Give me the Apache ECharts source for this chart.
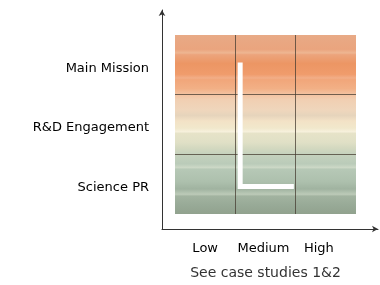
<!DOCTYPE html>
<html>
<head>
<meta charset="utf-8">
<script src="https://cdn.jsdelivr.net/npm/echarts@6/dist/echarts.min.js"></script>
<style>
  html, body { margin: 0; padding: 0; background: #fff; }
  #chart { width: 380px; height: 285px; }
</style>
</head>
<body>
<div id="chart"></div>
<script>
// axis categories
const levels = ['Low', 'Medium', 'High'];
const areas = ['Science PR', 'R&D Engagement', 'Main Mission'];
const footnote = 'See case studies 1&2';
// white "L" path, in cell units (0..3 on both axes)
const pathX = [1.08, 1.08, 1.97];
const pathY = [2.54, 0.46, 0.46];

const font = '"DejaVu Sans", "Noto Sans", sans-serif';

// striped orange -> cream -> green background
const bg = {
  type: 'linear', x: 0, y: 0, x2: 0, y2: 1,
  colorStops: [
    { offset: 0.00, color: '#e8aa86' },
    { offset: 0.08, color: '#eaa47e' },
    { offset: 0.10, color: '#eeb692' },
    { offset: 0.11, color: '#eca47c' },
    { offset: 0.16, color: '#ec9664' },
    { offset: 0.22, color: '#f09c6c' },
    { offset: 0.24, color: '#f2ae88' },
    { offset: 0.25, color: '#f1a67a' },
    { offset: 0.30, color: '#f2b086' },
    { offset: 0.33, color: '#f3c2a0' },
    { offset: 0.36, color: '#f1cfb2' },
    { offset: 0.42, color: '#efd6bc' },
    { offset: 0.45, color: '#e6d4bc' },
    { offset: 0.48, color: '#f3e2c6' },
    { offset: 0.52, color: '#f1e8cc' },
    { offset: 0.54, color: '#f6f0dc' },
    { offset: 0.55, color: '#e6e3c8' },
    { offset: 0.60, color: '#e0e0c6' },
    { offset: 0.63, color: '#d4d9c0' },
    { offset: 0.67, color: '#c4d1bd' },
    { offset: 0.72, color: '#bacbb9' },
    { offset: 0.74, color: '#ccd8c6' },
    { offset: 0.75, color: '#b6c8b6' },
    { offset: 0.82, color: '#adc0ad' },
    { offset: 0.86, color: '#a0b3a0' },
    { offset: 0.89, color: '#bccab8' },
    { offset: 0.90, color: '#a2b3a0' },
    { offset: 0.95, color: '#98aa97' },
    { offset: 1.00, color: '#91a28e' }
  ]
};

const chart = echarts.init(document.getElementById('chart'), null, { renderer: 'canvas' });

const hidden = { show: false };

chart.setOption({
  animation: false,
  backgroundColor: '#fff',
  textStyle: { fontFamily: font },
  grid: [
    // outer frame with the arrow axes
    { left: 162, right: 2, top: 10, bottom: 56 },
    // coloured 3x3 box
    { left: 175, top: 35, width: 181, height: 181, show: true, backgroundColor: bg, borderWidth: 0 }
  ],
  xAxis: [
    {
      gridIndex: 0, type: 'value', min: 0, max: 1,
      axisLine: { show: true, symbol: ['none', 'arrow'], symbolSize: [5, 6], lineStyle: { color: '#333', width: 1 } },
      axisTick: hidden, axisLabel: hidden, splitLine: hidden
    },
    {
      gridIndex: 1, type: 'value', min: 0, max: 3, interval: 1,
      axisLine: hidden, axisTick: hidden, axisLabel: hidden,
      splitLine: { show: true, showMinLine: false, showMaxLine: false, lineStyle: { color: 'rgba(70,60,50,0.75)', width: 1 } }
    },
    {
      gridIndex: 1, type: 'category', data: levels, position: 'bottom',
      axisLine: hidden, axisTick: hidden, splitLine: hidden,
      axisLabel: {
        interval: 0, hideOverlap: false, margin: 28, fontSize: 13, color: '#000', fontFamily: font,
        // the three words sit a little closer together than the columns
        formatter: (v, i) => '{p' + i + '|' + v + '}',
        rich: {
          p0: { fontSize: 13, color: '#000', fontFamily: font },
          p1: { fontSize: 13, color: '#000', fontFamily: font, padding: [0, 4, 0, 0] },
          p2: { fontSize: 13, color: '#000', fontFamily: font, padding: [0, 14, 0, 0] }
        }
      },
      name: footnote, nameLocation: 'middle', nameGap: 52,
      nameTextStyle: { fontSize: 14, color: '#333', fontFamily: font }
    }
  ],
  yAxis: [
    {
      gridIndex: 0, type: 'value', min: 0, max: 1,
      axisLine: { show: true, symbol: ['none', 'arrow'], symbolSize: [5, 6], lineStyle: { color: '#333', width: 1 } },
      axisTick: hidden, axisLabel: hidden, splitLine: hidden
    },
    {
      gridIndex: 1, type: 'value', min: 0, max: 3, interval: 1,
      axisLine: hidden, axisTick: hidden, axisLabel: hidden,
      splitLine: { show: true, showMinLine: false, showMaxLine: false, lineStyle: { color: 'rgba(70,60,50,0.75)', width: 1 } }
    },
    {
      gridIndex: 1, type: 'category', data: areas, position: 'left',
      axisLine: hidden, axisTick: hidden, splitLine: hidden,
      axisLabel: {
        interval: 0, margin: 26, fontFamily: font,
        formatter: v => '{a|' + v + '}',
        rich: { a: { fontSize: 13, color: '#000', fontFamily: font, padding: [7, 0, 0, 0] } }
      }
    }
  ],
  series: [
    {
      type: 'line',
      xAxisIndex: 1, yAxisIndex: 1,
      data: pathX.map((x, i) => [x, pathY[i]]),
      showSymbol: false,
      lineStyle: { color: '#fff', width: 5, cap: 'butt', join: 'miter' },
      z: 5
    }
  ]
});
</script>
</body>
</html>
